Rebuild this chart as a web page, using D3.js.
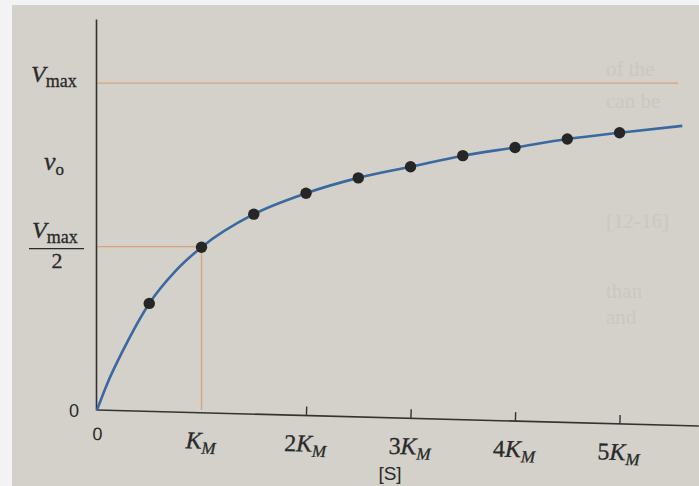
<!DOCTYPE html>
<html>
<head>
<meta charset="utf-8">
<script src="https://cdn.jsdelivr.net/npm/d3@7"></script>
<style>
    body { margin: 0; background: #f3f3f5; }
    svg { display: block; }
    .serif { font-family: "Liberation Serif", "DejaVu Serif", serif; }
    .sans { font-family: "Liberation Sans", "DejaVu Sans", sans-serif; }
</style>
</head>
<body>
<svg id="chart" width="699" height="486"></svg>
<script>
// substrate concentration [S] in multiples of K_M, velocity as a fraction of Vmax
const pointS = [0.5, 1, 1.5, 2, 2.5, 3, 3.5, 4, 4.5, 5];
const pointV = [0.326, 0.498, 0.599, 0.663, 0.710, 0.744, 0.778, 0.803, 0.829, 0.848];

// fitted curve
const curveS = [0, 0.1, 0.25, 0.5, 0.75, 1, 1.5, 2, 2.5, 3, 3.5, 4, 4.5, 5, 5.6];
const curveV = [0, 0.082, 0.183, 0.326, 0.425, 0.498, 0.599, 0.663, 0.710, 0.744, 0.778, 0.803, 0.829, 0.848, 0.869];

const xTicks = [1, 2, 3, 4, 5];
const xTickPrefix = ["", "2", "3", "4", "5"];

// faint text showing through from the facing page
const ghostText = ["of the", "can be", "[12-16]", "than", "and"];
const ghostY = [76, 108, 228, 298, 324];

let svg = d3.select("#chart");

let x = d3.scaleLinear().domain([0, 5.76]).range([97, 699]);
let y = d3.scaleLinear().domain([0, 1.196]).range([410, 19]);

//paper background
svg.append("rect")
    .attr("x", 12).attr("y", 5)
    .attr("width", 687).attr("height", 481)
    .attr("fill", "#d3d1c9");

//show-through text
svg.append("g")
    .selectAll("text")
    .data(ghostText)
    .join("text")
    .attr("class", "serif")
    .attr("x", 606)
    .attr("y", (d, i) => ghostY[i])
    .attr("font-size", 21)
    .attr("fill", "#cac8c0")
    .text(d => d);

//reference lines
let refColor = "#d8a37c";
svg.append("line")
    .attr("x1", x(0)).attr("x2", 678)
    .attr("y1", y(1)).attr("y2", y(1))
    .attr("stroke", refColor).attr("stroke-width", 1.3);
svg.append("line")
    .attr("x1", x(0)).attr("x2", x(1))
    .attr("y1", y(0.5)).attr("y2", y(0.5))
    .attr("stroke", refColor).attr("stroke-width", 1.3);
svg.append("line")
    .attr("x1", x(1)).attr("x2", x(1))
    .attr("y1", y(0.5)).attr("y2", y(0))
    .attr("stroke", refColor).attr("stroke-width", 1.3);

//y axis
svg.append("g")
    .attr("transform", "translate(" + (x(0) - 1) + ",0)")
    .call(d3.axisLeft(y).tickValues([]).tickSizeOuter(0))
    .select(".domain")
    .attr("stroke", "#333").attr("stroke-width", 1.6);

//x axis, tilted slightly like the photographed page
let angle = Math.atan2(16, 602) * 180 / Math.PI;
let xAxis = svg.append("g")
    .attr("transform", "translate(0," + y(0) + ") rotate(" + angle + "," + x(0) + ",0)");

xAxis.call(d3.axisBottom(x).tickValues(xTicks.slice(1)).tickSize(-9).tickSizeOuter(0).tickFormat(""));
xAxis.select(".domain").attr("stroke", "#333").attr("stroke-width", 1.6)
    .attr("d", "M" + x(0) + ",0H" + x(5.76));
xAxis.selectAll(".tick line").attr("stroke", "#333").attr("stroke-width", 1.4);

//x tick labels
let xLabels = xAxis.append("g")
    .selectAll("text")
    .data(xTicks)
    .join("text")
    .attr("class", "serif")
    .attr("x", d => x(d))
    .attr("y", 36)
    .attr("text-anchor", "middle")
    .attr("fill", "#2a2a2a")
    .attr("stroke", "#2a2a2a")
    .attr("stroke-width", 0.3);
xLabels.append("tspan")
    .attr("font-size", 24)
    .text((d, i) => xTickPrefix[i]);
xLabels.append("tspan")
    .attr("font-size", 24)
    .attr("font-style", "italic")
    .text("K");
xLabels.append("tspan")
    .attr("font-size", 17)
    .attr("font-style", "italic")
    .attr("dy", 5)
    .text("M");

xAxis.append("text")
    .attr("class", "sans")
    .attr("x", x(0) + 1).attr("y", 30)
    .attr("text-anchor", "middle")
    .attr("font-size", 18)
    .attr("fill", "#2a2a2a")
    .text("0");

svg.append("text")
    .attr("class", "sans")
    .attr("x", 390).attr("y", 480)
    .attr("text-anchor", "middle")
    .attr("font-size", 19)
    .attr("fill", "#2a2a2a")
    .text("[S]");

//y labels
svg.append("text")
    .attr("class", "sans")
    .attr("x", 74).attr("y", y(0) + 7)
    .attr("text-anchor", "middle")
    .attr("font-size", 18)
    .attr("fill", "#2a2a2a")
    .text("0");

let vmax = svg.append("text")
    .attr("class", "serif")
    .attr("x", 31).attr("y", y(1) - 1)
    .attr("fill", "#2a2a2a")
    .attr("stroke", "#2a2a2a").attr("stroke-width", 0.3);
vmax.append("tspan").attr("font-size", 24).attr("font-style", "italic").text("V");
vmax.append("tspan").attr("font-size", 18).attr("dy", 5).text("max");

let v0 = svg.append("text")
    .attr("class", "serif")
    .attr("x", 44).attr("y", 170)
    .attr("fill", "#2a2a2a")
    .attr("stroke", "#2a2a2a").attr("stroke-width", 0.3);
v0.append("tspan").attr("font-size", 26).attr("font-style", "italic").text("v");
v0.append("tspan").attr("font-size", 17).attr("dy", 5).text("o");

let half = svg.append("text")
    .attr("class", "serif")
    .attr("x", 32).attr("y", y(0.5) - 9)
    .attr("fill", "#2a2a2a")
    .attr("stroke", "#2a2a2a").attr("stroke-width", 0.3);
half.append("tspan").attr("font-size", 24).attr("font-style", "italic").text("V");
half.append("tspan").attr("font-size", 18).attr("dy", 5).text("max");
svg.append("line")
    .attr("x1", 29).attr("x2", 84)
    .attr("y1", y(0.5) + 2).attr("y2", y(0.5) + 2)
    .attr("stroke", "#2a2a2a").attr("stroke-width", 1.3);
svg.append("text")
    .attr("class", "serif")
    .attr("x", 57).attr("y", y(0.5) + 21)
    .attr("text-anchor", "middle")
    .attr("font-size", 22)
    .attr("fill", "#2a2a2a")
    .attr("stroke", "#2a2a2a").attr("stroke-width", 0.3)
    .text("2");

//curve
let line = d3.line()
    .x(d => x(d[0]))
    .y(d => y(d[1]))
    .curve(d3.curveMonotoneX);

svg.append("path")
    .datum(curveS.map((s, i) => [s, curveV[i]]))
    .attr("d", line)
    .attr("fill", "none")
    .attr("stroke", "#3a68a0")
    .attr("stroke-width", 2.6);

//data points
svg.append("g")
    .selectAll("circle")
    .data(pointS)
    .join("circle")
    .attr("cx", d => x(d))
    .attr("cy", (d, i) => y(pointV[i]))
    .attr("r", 5.7)
    .attr("fill", "#262626");
</script>
</body>
</html>
